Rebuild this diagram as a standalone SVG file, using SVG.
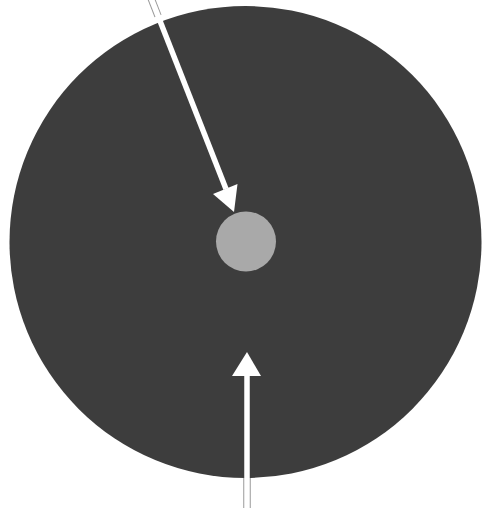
<svg xmlns="http://www.w3.org/2000/svg" width="482" height="513" viewBox="0 0 482 513">
<style>
.outer{fill:#3d3d3d}
.inner{fill:#a9a9a9}
.shaft{stroke:#ffffff;stroke-width:5.5;fill:none}
.edge{stroke:#9a9a9a;stroke-width:7.5;fill:none}
.head{fill:#ffffff}
</style>
<rect width="482" height="513" fill="#ffffff"/>
<g id="outer-disc"><circle class="outer" cx="245.5" cy="242" r="236"/></g>
<g id="inner-disc"><circle class="inner" cx="246" cy="241.5" r="30"/></g>
<g id="connectors">
<path class="edge" d="M151,-2 L158,16"/>
<path class="edge" d="M247,478 L247,508"/>
<path class="shaft" d="M151,-2 L226,189"/>
<polygon class="head" points="234,212 237.5,184 213,194"/>
<path class="shaft" d="M247,508 L247,372"/>
<polygon class="head" points="247,352 261,376 232,376"/>
</g>
</svg>
